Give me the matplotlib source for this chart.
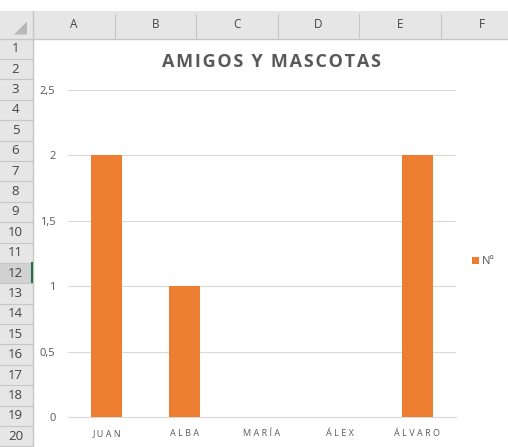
import matplotlib.pyplot as plt
from matplotlib.patches import Rectangle, Polygon

# chart data
names = ['JUAN', 'ALBA', 'MARÍA', 'ÁLEX', 'ÁLVARO']
mascotas = [2, 1, 0, 0, 2]
series_name = 'Nº'
y_ticks = [0, 0.5, 1, 1.5, 2, 2.5]
y_tick_labels = ['0', '0,5', '1', '1,5', '2', '2,5']

# spreadsheet frame
col_letters = ['A', 'B', 'C', 'D', 'E', 'F']
row_numbers = list(range(1, 21))
active_row = 12

W, H = 508, 447
plt.rcParams['font.family'] = ['Open Sans', 'DejaVu Sans']

fig = plt.figure(figsize=(W / 100, H / 100), dpi=100)
fig.patch.set_facecolor('white')

# background axes in pixel coords for the sheet headers
bg = fig.add_axes([0, 0, 1, 1])
bg.set_xlim(0, W)
bg.set_ylim(H, 0)
bg.axis('off')

head_top, head_bot = 11, 38.5
row_w = 33
col_w = 81.6
row_h = 20.4
hdr_col = '#e6e6e6'
line_col = '#c6c6c6'
txt_col = '#444444'

bg.add_patch(Rectangle((0, head_top), W, head_bot - head_top, color=hdr_col, lw=0))
bg.add_patch(Rectangle((0, head_bot), row_w, H - head_bot, color=hdr_col, lw=0))
bg.add_patch(Polygon([[row_w - 6, head_bot - 4], [row_w - 6, head_bot - 17], [row_w - 19, head_bot - 4]],
                     closed=True, color='#b8b8b8', lw=0))
bg.plot([0, W], [head_bot, head_bot], color=line_col, lw=1)
bg.plot([row_w, row_w], [head_top, H], color=line_col, lw=1)

for i, c in enumerate(col_letters):
    x0 = row_w + i * col_w
    bg.text(x0 + col_w / 2, (head_top + head_bot) / 2, c, ha='center', va='center',
            fontsize=8.5, color=txt_col)
    if i > 0:
        bg.plot([x0, x0], [head_top + 3, head_bot], color=line_col, lw=0.8)

for r in row_numbers:
    y0 = head_bot + (r - 1) * row_h
    if r == active_row:
        bg.add_patch(Rectangle((0, y0), row_w, row_h, color='#d2d2d2', lw=0))
        bg.plot([row_w - 1, row_w - 1], [y0, y0 + row_h], color='#217346', lw=1.5)
    bg.plot([0, row_w], [y0 + row_h, y0 + row_h], color=line_col, lw=0.8)
    bg.text(row_w / 2 - 1, y0 + row_h / 2, str(r), ha='center', va='center',
            fontsize=9.5, color=txt_col)

# chart axes
left, right, top, bottom = 68, 456, 90, 417
ax = fig.add_axes([left / W, 1 - bottom / H, (right - left) / W, (bottom - top) / H])
ax.set_facecolor('none')

x = range(len(names))
ax.bar(x, mascotas, width=0.4, color='#ed7d31', label=series_name, zorder=3)

ax.set_xlim(-0.5, len(names) - 0.5)
ax.set_ylim(0, 2.5)
ax.set_yticks(y_ticks)
ax.set_yticklabels(y_tick_labels)
ax.set_xticks(list(x))
ax.set_xticklabels([' '.join(n) for n in names])
ax.yaxis.grid(True, color='#d9d9d9', lw=0.8, zorder=0)
for s in ['left', 'right', 'top']:
    ax.spines[s].set_visible(False)
ax.spines['bottom'].set_color('#d9d9d9')
ax.tick_params(axis='both', length=0, colors='#595959')
ax.tick_params(axis='y', pad=9, labelsize=8)
ax.tick_params(axis='x', pad=9, labelsize=6.5)

fig.text(272 / W, 1 - 62 / H, '\u200a'.join('AMIGOS Y MASCOTAS'),
         ha='center', va='center', fontsize=13, fontweight='bold', color='#595959')

ax.legend(loc='center left', bbox_to_anchor=(472 / W, 1 - 262 / H), bbox_transform=fig.transFigure,
          frameon=False, handlelength=0.6, handleheight=0.6, handletextpad=0.3,
          fontsize=8, labelcolor='#595959', borderaxespad=0, borderpad=0)

fig.savefig('out.png', dpi=100, facecolor='white')
